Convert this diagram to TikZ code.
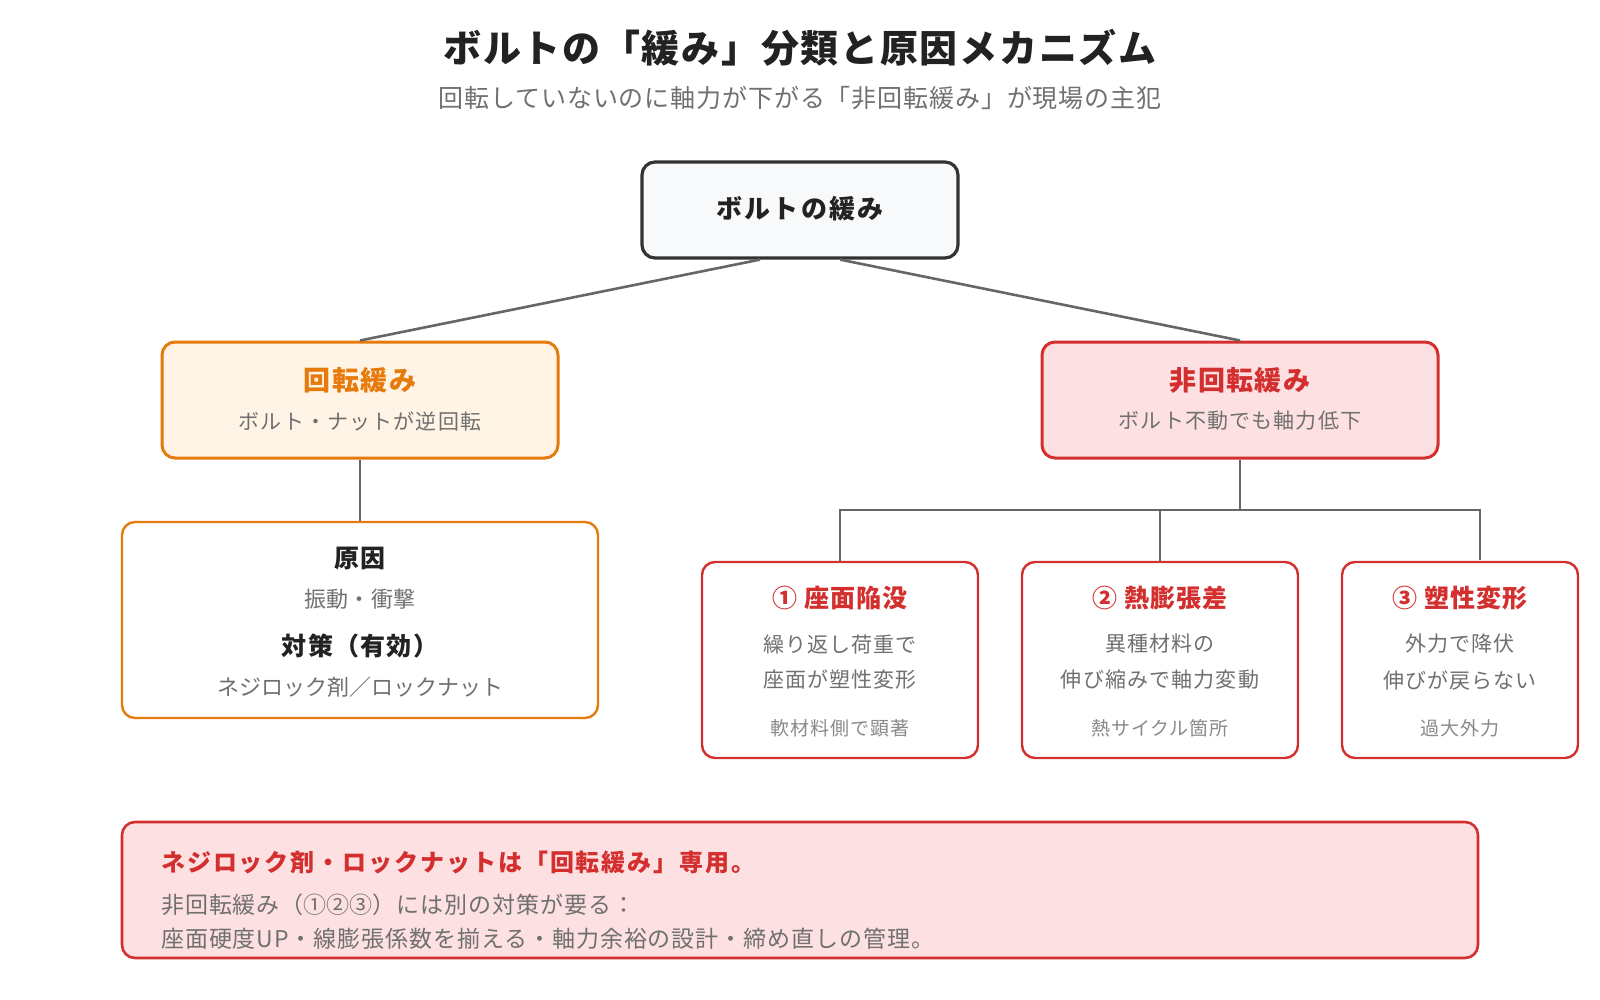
\documentclass[tikz,border=0pt]{standalone}
\usepackage{fontspec}
\setmainfont{Noto Sans CJK JP}
\usepackage{tikz}
\usetikzlibrary{positioning,calc}

\definecolor{ink}{HTML}{222222}
\definecolor{edge}{HTML}{333333}
\definecolor{rootfill}{HTML}{F8F9FA}
\definecolor{orng}{HTML}{E67A0A}
\definecolor{orngfill}{HTML}{FFF4E5}
\definecolor{rd}{HTML}{D32F2F}
\definecolor{rdfill}{HTML}{FDE0E1}
\definecolor{txtgray}{HTML}{707070}
\definecolor{notegray}{HTML}{8A8A8A}
\definecolor{linegray}{HTML}{666666}

% font size with letter spacing
\newcommand{\fsz}[2]{\fontsize{#1}{#1}\selectfont\addfontfeatures{LetterSpace=#2}}
% full-width circled digit
\newcommand{\cdig}[1]{\makebox[1em]{#1}}

\begin{document}
\begin{tikzpicture}[x=1pt,y=-1pt,
			box/.style={draw, rectangle, rounded corners=13pt, line width=3pt},
			rootbox/.style={box, draw=edge, fill=rootfill, line width=3.2pt, minimum width=316, minimum height=96},
			rotbox/.style={box, draw=orng, fill=orngfill, minimum width=396, minimum height=116},
			nonrotbox/.style={box, draw=rd, fill=rdfill, minimum width=396, minimum height=116},
			causebox/.style={box, draw=orng, fill=white, line width=2.4pt, minimum width=476, minimum height=196},
			kindbox/.style={box, draw=rd, fill=white, line width=2.4pt, minimum height=196},
			notebox/.style={box, draw=rd, fill=rdfill, line width=2.6pt, minimum width=1356, minimum height=136},
			txt/.style={inner sep=0pt, text=txtgray, font=\fsz{21}{5.5}},
			hd/.style={inner sep=0pt, font=\bfseries\fsz{25}{5}},
			small/.style={inner sep=0pt, text=notegray, font=\fsz{19}{5}},
			link/.style={draw=linegray, line width=2.6pt}]
			
			\useasboundingbox (0,0) rectangle (1600,1000);
			
			% title
			\node[inner sep=0pt, text=ink, font=\bfseries\fsz{38}{4.5}] (title) at (800,48) {ボルトの「緩み」分類と原因メカニズム};
			\node[inner sep=0pt, text=txtgray, font=\fsz{25}{3.5}] (subtitle) at (800,98) {回転していないのに軸力が下がる「非回転緩み」が現場の主犯};
			
			% boxes
			\node[rootbox] (root) at (800,210) {};
			\node[rotbox] (rot) at (360,400) {};
			\node[nonrotbox] (nonrot) at (1240,400) {};
			\node[causebox] (cause) at (360,620) {};
			\node[kindbox, minimum width=276] (seat) at (840,660) {};
			\node[kindbox, minimum width=276] (therm) at (1160,660) {};
			\node[kindbox, minimum width=236] (plast) at (1460,660) {};
			\node[notebox] (note) at (800,890) {};
			
			% texts
			\node[hd, text=ink, font=\bfseries\fsz{26}{8}] (roottxt) at (800,209) {ボルトの緩み};
			\node[hd, text=orng, font=\bfseries\fsz{27}{5}] (rottxt) at (360,380) {回転緩み};
			\node[txt] (rotsub) at (360,421) {ボルト・ナットが逆回転};
			\node[hd, text=rd, font=\bfseries\fsz{27}{5}] (nonrottxt) at (1240,380) {非回転緩み};
			\node[txt] (nonrotsub) at (1240,421) {ボルト不動でも軸力低下};
			
			\node[hd, text=ink] (causehd) at (360,558) {原因};
			\node[txt, font=\fsz{22}{2}] (causetxt) at (360,599) {振動・衝撃};
			\node[hd, text=ink] (fixhd) at (360,646) {対策（有効）};
			\node[txt, font=\fsz{22}{0}] (fixtxt) at (360,687) {ネジロック剤／ロックナット};
			
			\node[hd, text=rd] (seathd) at (840,598) {① 座面陥没};
			\node[txt] (seata) at (840,644) {繰り返し荷重で};
			\node[txt] (seatb) at (840,680) {座面が塑性変形};
			\node[small] (seatc) at (840,728) {軟材料側で顕著};
			
			\node[hd, text=rd] (thermhd) at (1160,598) {② 熱膨張差};
			\node[txt] (therma) at (1160,644) {異種材料の};
			\node[txt] (thermb) at (1160,680) {伸び縮みで軸力変動};
			\node[small] (thermc) at (1160,728) {熱サイクル箇所};
			
			\node[hd, text=rd] (plasthd) at (1460,598) {③ 塑性変形};
			\node[txt] (plasta) at (1460,644) {外力で降伏};
			\node[txt] (plastb) at (1460,680) {伸びが戻らない};
			\node[small] (plastc) at (1460,728) {過大外力};
			
			\node[hd, text=rd, anchor=west, font=\bfseries\fsz{24}{8}] (notehd) at (161,862) {ネジロック剤・ロックナットは「回転緩み」専用。};
			\node[txt, anchor=west, font=\fsz{23}{4}] (notea) at (161,905) {非回転緩み（\cdig{①}\cdig{②}\cdig{③}）には別の対策が要る：};
			\node[txt, anchor=west, font=\fsz{23}{4}] (noteb) at (161,939) {座面硬度UP・線膨張係数を揃える・軸力余裕の設計・締め直しの管理。};
			
			% connectors
			\coordinate (bar) at (1240,510);
			\coordinate (plastjoin) at (1480,560);
			\draw[link] ([xshift=-40pt]root.south) -- (rot.north);
			\draw[link] ([xshift=40pt]root.south) -- (nonrot.north);
			\draw[link] (rot.south) -- (cause.north);
			\draw[link] (nonrot.south) -- (bar);
			\draw[link] (seat.north) -- (seat.north |- bar) -- (bar -| plastjoin) -- (plastjoin);
			\draw[link] (therm.north) -- (therm.north |- bar);
			
		\end{tikzpicture}
\end{document}
